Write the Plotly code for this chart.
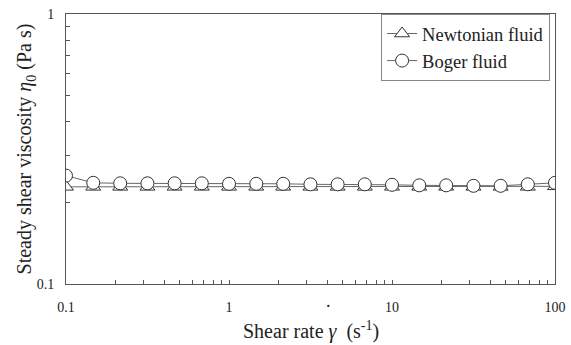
import plotly.graph_objects as go

shear_rate = [0.1, 0.147, 0.215, 0.316, 0.464, 0.681, 1.0, 1.47, 2.15, 3.16,
              4.64, 6.81, 10.0, 14.7, 21.5, 31.6, 46.4, 68.1, 100.0]
newtonian = [0.229, 0.229, 0.229, 0.229, 0.229, 0.229, 0.229, 0.229, 0.229, 0.229,
             0.229, 0.229, 0.229, 0.229, 0.229, 0.229, 0.229, 0.229, 0.230]
boger = [0.252, 0.237, 0.236, 0.236, 0.236, 0.236, 0.235, 0.235, 0.235, 0.234,
         0.234, 0.234, 0.233, 0.232, 0.232, 0.231, 0.231, 0.234, 0.237]

y_ticks = [0.1, 1]
y_ticklabels = ["0.1", "1"]
x_ticks = [0.1, 1, 10, 100]
x_ticklabels = ["0.1", "1", "10", "100"]

FONT = "Liberation Serif, Times New Roman, serif"


def log_ticks(lo_exp, hi_exp, labels_at, labels):
    vals, texts = [], []
    for e in range(lo_exp, hi_exp + 1):
        for m in range(1, 10):
            v = m * 10 ** e
            if v > 10 ** hi_exp + 1e-9:
                break
            vals.append(v)
            txt = ""
            for lv, lt in zip(labels_at, labels):
                if abs(lv - v) < 1e-9 * max(1, v):
                    txt = lt
            texts.append(txt)
    return vals, texts


xv, xt = log_ticks(-1, 2, x_ticks, x_ticklabels)
yv, yt = log_ticks(-1, 0, y_ticks, y_ticklabels)

fig = go.Figure()
fig.add_trace(go.Scatter(
    x=shear_rate, y=newtonian, mode="lines+markers", name="Newtonian fluid",
    line=dict(color="#666666", width=1),
    marker=dict(symbol="triangle-up", size=13, color="white",
                line=dict(color="#333333", width=1)),
))
fig.add_trace(go.Scatter(
    x=shear_rate, y=boger, mode="lines+markers", name="Boger fluid",
    line=dict(color="#666666", width=1),
    marker=dict(symbol="circle", size=13, color="white",
                line=dict(color="#333333", width=1)),
))

axis_common = dict(
    type="log", showgrid=False, zeroline=False, showline=True, mirror=True,
    linecolor="#555555", linewidth=1, ticks="inside", ticklen=4,
    tickcolor="#555555", tickfont=dict(family=FONT, size=14, color="#222222"),
    tickmode="array", automargin=False,
)
fig.update_xaxes(range=[-1, 2], tickvals=xv, ticktext=xt,
                 ticklabelstandoff=10, **axis_common)
fig.update_yaxes(range=[-1, 0], tickvals=yv, ticktext=yt,
                 ticklabelstandoff=8, **axis_common)

fig.update_layout(
    width=571, height=345,
    margin=dict(l=66, r=16, t=14, b=61),
    paper_bgcolor="white", plot_bgcolor="white",
    font=dict(family=FONT, color="#222222"),
    showlegend=True,
    legend=dict(x=0.99, y=1.0, xanchor="right", yanchor="top",
                bordercolor="#888888", borderwidth=1, bgcolor="white",
                font=dict(family=FONT, size=18.5, color="#222222"),
                itemwidth=30, tracegroupgap=0),
    annotations=[
        dict(text="Steady shear viscosity <i>η</i><sub>0</sub> (Pa s)",
             xref="paper", yref="paper", x=-0.085, y=0.5,
             xanchor="center", yanchor="middle", textangle=-90,
             showarrow=False, font=dict(family=FONT, size=20, color="#222222"),
             xshift=1),
        dict(text="Shear rate <i>γ</i>  (s<sup>-1</sup>)",
             xref="paper", yref="paper", x=0.5, y=0, yshift=-46,
             xanchor="center", yanchor="middle", showarrow=False,
             font=dict(family=FONT, size=20, color="#222222")),
        dict(text=".", xref="paper", yref="paper", x=0.5, y=0, yshift=-17,
             xshift=18, xanchor="center", yanchor="middle", showarrow=False,
             font=dict(family=FONT, size=18, color="#222222")),
    ],
)

fig.write_html("out.html", config={"displayModeBar": False},
               post_script="document.body.style.margin='0';document.body.style.padding='0';")
